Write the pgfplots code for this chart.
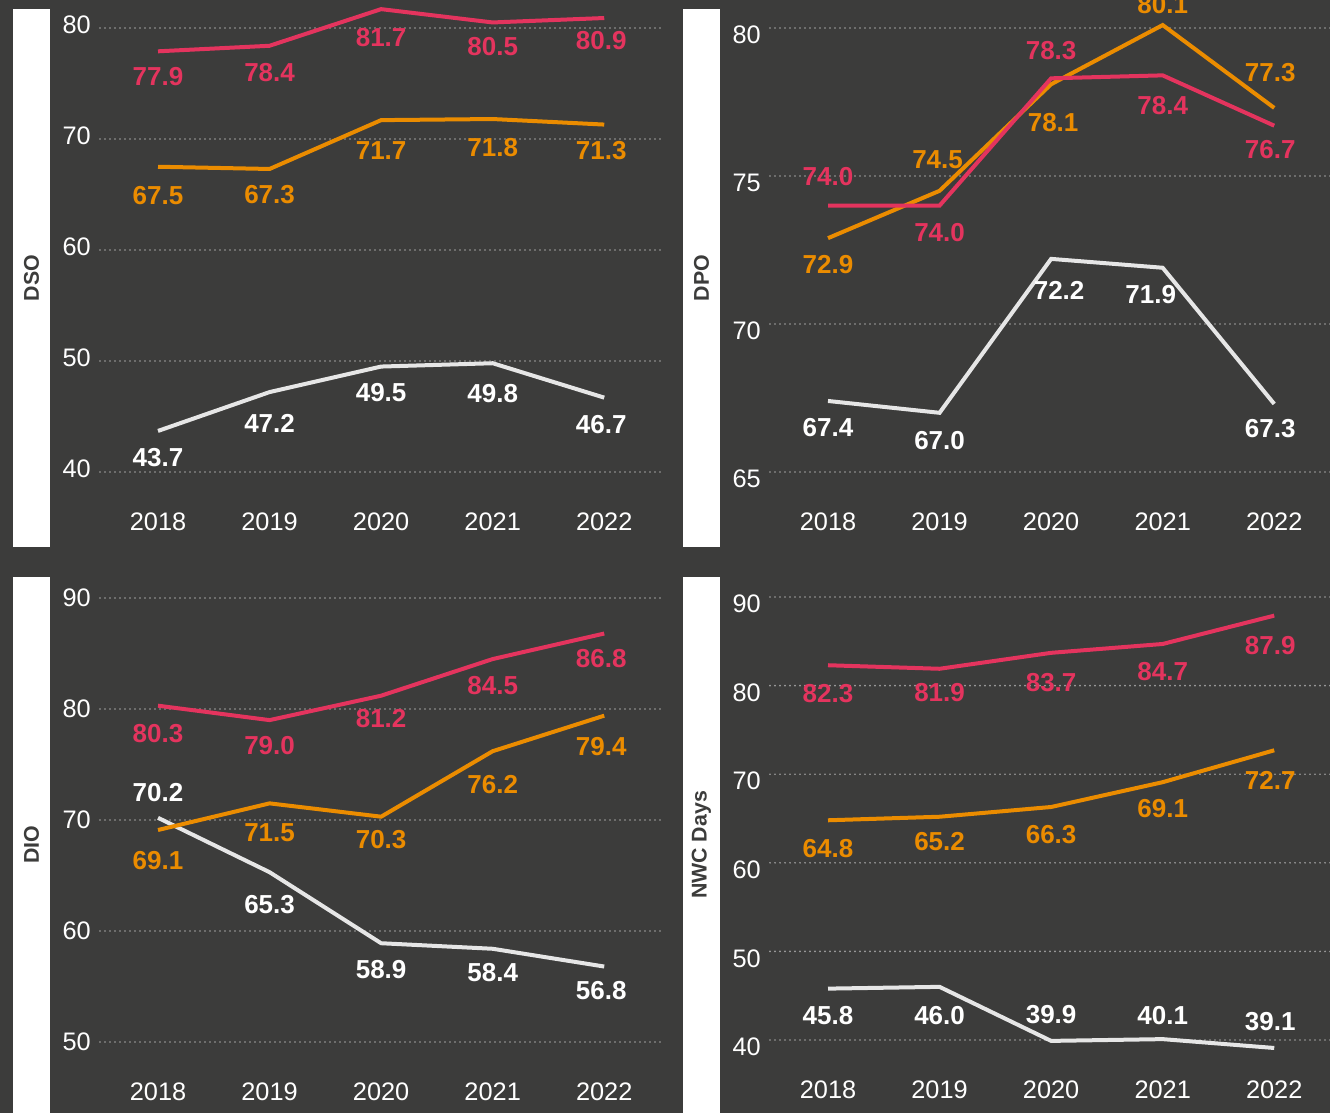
\documentclass[border=0pt]{standalone}
\usepackage{fontspec}
\setmainfont{Liberation Sans}
\usepackage{pgfplots}
\pgfplotsset{compat=1.18}
\usepackage{pgfplotstable}

\definecolor{bg}{HTML}{3C3C3B}
\definecolor{cR}{HTML}{E4345E}
\definecolor{cO}{HTML}{EB8C00}
\definecolor{cW}{HTML}{E6E6E6}
\definecolor{grd}{HTML}{A0A0A0}

% x, value, label offsets (px) for red / orange / white
\pgfplotstableread{
x r rdy rdx o ody odx w wdy wdx
0 77.9 -25 0 67.5 -29 0 43.7 -27 0
1 78.4 -27 0 67.3 -26 0 47.2 -31 0
2 81.7 -28 0 71.7 -30 0 49.5 -26 0
3 80.5 -24 0 71.8 -29 0 49.8 -30 0
4 80.9 -23 -3 71.3 -26 -3 46.7 -27 -3
}\dso
\pgfplotstableread{
x r rdy rdx o ody odx w wdy wdx
0 74.0 29 0 72.9 -26 0 67.4 -27 0
1 74.0 -27 0 74.5 31 -2 67.0 -28 0
2 78.3 28 0 78.1 -38 2 72.2 -32 8
3 78.4 -30 0 80.1 20 0 71.9 -27 -12
4 76.7 -24 -4 77.3 35 -4 67.3 -25 -4
}\dpo
\pgfplotstableread{
x r rdy rdx o ody odx w wdy wdx
0 80.3 -28 0 69.1 -31 0 70.2 25 0
1 79.0 -25 0 71.5 -29 0 65.3 -32 0
2 81.2 -23 0 70.3 -23 0 58.9 -26 0
3 84.5 -26 0 76.2 -33 0 58.4 -24 0
4 86.8 -25 -3 79.4 -31 -3 56.8 -24 -3
}\dio
\pgfplotstableread{
x r rdy rdx o ody odx w wdy wdx
0 82.3 -28 0 64.8 -28 0 45.8 -27 0
1 81.9 -24 0 65.2 -25 0 46.0 -29 0
2 83.7 -30 0 66.3 -28 0 39.9 26 0
3 84.7 -28 0 69.1 -26 0 40.1 24 0
4 87.9 -30 -4 72.7 -30 -4 39.1 26 -4
}\nwc

\pgfplotsset{
  panel/.style={scale only axis, width=420pt, height=333pt, anchor=south west, clip=false,
    xmin=-0.52, xmax=4.5, xtick={0,...,4}, xticklabels={2018,2019,2020,2021,2022},
    axis line style={draw=none}, major tick length=0pt, ymajorgrids,
    grid style={grd, line width=1.4pt, line cap=round, dash pattern=on 0pt off 3.75pt},
    tick label style={text=white, font=\fontsize{19}{21}\selectfont, inner sep=0pt},
    xticklabel style={anchor=center, yshift=-37.5pt},
    yticklabel style={anchor=east, xshift=-6.75pt},
    /pgf/number format/assume math mode=true},
  lblp/.style={draw=none, no markers, forget plot, point meta=explicit,
    nodes near coords={\pgfmathprintnumber[fixed,fixed zerofill,precision=1]{\pgfplotspointmeta}},
    every node near coord/.append style={anchor=center, text=#1, inner sep=0pt,
      font=\bfseries\fontsize{19.5}{21}\selectfont}},
}
% table, column, line colour, label colour; \ppu = px per y unit
\newcommand\series[4]{%
  \addplot[draw=#3, line width=3pt, no markers] table[x=x,y=#2]{#1};
  \addplot[lblp=#4] table[x expr=\thisrow{x}+\thisrow{#2dx}/111.5,
    y expr=\thisrow{#2}+\thisrow{#2dy}/\ppu, meta=#2]{#1};}

\begin{document}
\begin{tikzpicture}[x=0.75pt, y=0.75pt]
\useasboundingbox (0,0) rectangle (1330,-1113);
\fill[bg] (0,0) rectangle (1330,-1113);
\fill[white] (13,-9) rectangle (50,-547);
\fill[white] (683,-9) rectangle (720,-547);
\fill[white] (13,-577) rectangle (50,-1113);
\fill[white] (683,-577) rectangle (720,-1113);
\begin{scope}[font=\bfseries\fontsize{16}{18}\selectfont, text=bg]
\node[rotate=90] at (31.5,-278) {DSO};
\node[rotate=90] at (701.5,-278) {DPO};
\node[rotate=90] at (31.5,-845) {DIO};
\node[rotate=90] at (701.5,-845) {NWC Days};
\end{scope}
\coordinate (a1) at (100,-472);
\coordinate (a2) at (770,-472);
\coordinate (a3) at (100,-1042);
\coordinate (a4) at (770,-1040);

\def\ppu{11.1}
\begin{axis}[panel, at={(a1)}, ymin=40, ymax=80, ytick={40,50,...,80},
  yticklabel style={yshift=2.25pt}]
\series{\dso}{w}{cW}{white}
\series{\dso}{o}{cO}{cO}
\series{\dso}{r}{cR}{cR}
\end{axis}

\def\ppu{29.6}
\begin{axis}[panel, at={(a2)}, ymin=65, ymax=80, ytick={65,70,75,80},
  yticklabel style={yshift=-5.25pt}]
\series{\dpo}{w}{cW}{white}
\series{\dpo}{o}{cO}{cO}
\series{\dpo}{r}{cR}{cR}
\end{axis}

\def\ppu{11.1}
\begin{axis}[panel, at={(a3)}, ymin=50, ymax=90, ytick={50,60,...,90}]
\series{\dio}{w}{cW}{white}
\series{\dio}{o}{cO}{cO}
\series{\dio}{r}{cR}{cR}
\end{axis}

\def\ppu{8.86}
\begin{axis}[panel, at={(a4)}, height=332.25pt, ymin=40, ymax=90, ytick={40,50,...,90},
  yticklabel style={yshift=-5.25pt}]
\series{\nwc}{w}{cW}{white}
\series{\nwc}{o}{cO}{cO}
\series{\nwc}{r}{cR}{cR}
\end{axis}
\end{tikzpicture}
\end{document}
